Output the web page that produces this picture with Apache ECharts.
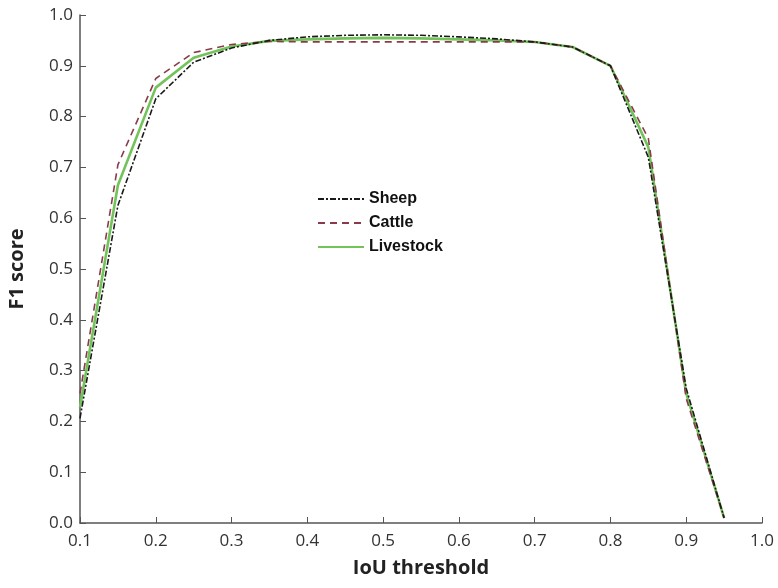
<!DOCTYPE html>
<html>
<head>
<meta charset="utf-8">
<script src="https://cdn.jsdelivr.net/npm/echarts@6/dist/echarts.min.js"></script>
<style>html,body{margin:0;padding:0;background:#fff}#c{width:778px;height:588px}</style>
</head>
<body>
<div id="c"></div>
<script>
const iouThresholds = [0.1, 0.15, 0.2, 0.25, 0.3, 0.35, 0.4, 0.45, 0.5, 0.55, 0.6, 0.65, 0.7, 0.75, 0.8, 0.85, 0.9, 0.95];
const sheepF1 =     [0.206, 0.625, 0.835, 0.907, 0.935, 0.950, 0.957, 0.960, 0.961, 0.960, 0.957, 0.953, 0.947, 0.937, 0.900, 0.720, 0.265, 0.010];
const cattleF1 =    [0.255, 0.705, 0.875, 0.926, 0.942, 0.948, 0.947, 0.947, 0.947, 0.947, 0.947, 0.947, 0.947, 0.937, 0.900, 0.757, 0.245, 0.010];
const livestockF1 = [0.228, 0.665, 0.857, 0.916, 0.938, 0.949, 0.952, 0.954, 0.955, 0.954, 0.952, 0.950, 0.947, 0.937, 0.900, 0.740, 0.255, 0.010];
const seriesNames = ['Sheep', 'Cattle', 'Livestock'];
const xTitle = 'IoU threshold';
const yTitle = 'F1 score';

function pairs(ys){ return iouThresholds.map((x,i)=>[x, ys[i]]); }

const chart = echarts.init(document.getElementById('c'), null, {renderer:'canvas'});
const axisColor = '#555';
const labelFont = {fontFamily:'Open Sans', fontSize:17, color:'#333'};
chart.setOption({
  animation:false,
  backgroundColor:'#fff',
  grid:{left:80, right:16, top:15, bottom:65, containLabel:false, outerBoundsMode:'none'},
  legend:{
    orient:'vertical', left:312, top:186, itemWidth:46, itemHeight:12, itemGap:8,
    data:seriesNames,
    itemStyle:{opacity:0},
    textStyle:{fontFamily:'Liberation Sans', fontWeight:'bold', fontSize:16, color:'#111'}
  },
  xAxis:{
    type:'value', min:0.1, max:1.0, interval:0.1,
    name:xTitle, nameLocation:'middle', nameGap:35,
    nameTextStyle:{fontFamily:'Open Sans', fontWeight:'bold', fontSize:20, color:'#222'},
    axisLine:{show:true, lineStyle:{color:axisColor, width:1.5}},
    axisTick:{show:true, inside:true, length:6, lineStyle:{color:axisColor}},
    axisLabel:Object.assign({margin:10, formatter:v=>v.toFixed(1)}, labelFont),
    splitLine:{show:false}
  },
  yAxis:{
    type:'value', min:0, max:1.0, interval:0.1,
    name:yTitle, nameLocation:'middle', nameGap:53,
    nameTextStyle:{fontFamily:'Open Sans', fontWeight:'bold', fontSize:20, color:'#222'},
    axisLine:{show:true, lineStyle:{color:axisColor, width:1.5}},
    axisTick:{show:true, inside:true, length:6, lineStyle:{color:axisColor}},
    axisLabel:Object.assign({margin:7, formatter:v=>v.toFixed(1)}, labelFont),
    splitLine:{show:false}
  },
  series:[
    {name:seriesNames[0], type:'line', data:pairs(sheepF1), symbol:'none', z:4,
     lineStyle:{color:'#1a1a1a', width:1.6, type:[6,2,2,2]}, itemStyle:{color:'#1a1a1a'}},
    {name:seriesNames[1], type:'line', data:pairs(cattleF1), symbol:'none', z:3,
     lineStyle:{color:'#8a3b4a', width:1.6, type:[7,5]}, itemStyle:{color:'#8a3b4a'}},
    {name:seriesNames[2], type:'line', data:pairs(livestockF1), symbol:'none', z:2,
     lineStyle:{color:'#72c45a', width:2.6, type:'solid'}, itemStyle:{color:'#72c45a'}}
  ]
});
</script>
</body>
</html>
